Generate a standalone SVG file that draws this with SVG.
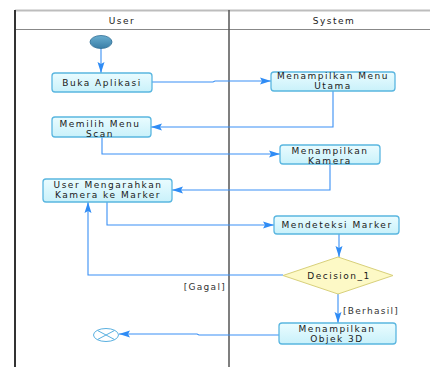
<svg xmlns="http://www.w3.org/2000/svg" width="430" height="367" viewBox="0 0 430 367">
<defs>
<linearGradient id="boxg" x1="0" y1="0" x2="0" y2="1"><stop offset="0" stop-color="#eafcff"/><stop offset="1" stop-color="#c9f1fa"/></linearGradient>
<linearGradient id="startg" x1="0" y1="0" x2="0" y2="1"><stop offset="0" stop-color="#6aaed0"/><stop offset="1" stop-color="#3a7ea6"/></linearGradient>
<marker id="arr" markerUnits="userSpaceOnUse" markerWidth="12" markerHeight="8" refX="11" refY="4" orient="auto"><path d="M0,0.5 L11,4 L0,7.5 L2,4 Z" fill="#2f8cf5"/></marker>
<style>
.box{fill:url(#boxg);stroke:#5ab6e0;stroke-width:1.3}
.t{font-family:"DejaVu Sans",Verdana,sans-serif;font-size:9px;letter-spacing:1.5px;fill:#1a1a1a;text-anchor:middle}
.lbl{font-family:"DejaVu Sans",Verdana,sans-serif;font-size:9px;letter-spacing:1.3px;fill:#333}
.c{fill:none;stroke:#3a90f5;stroke-width:1.1;marker-end:url(#arr)}
</style>
</defs>
<rect width="430" height="367" fill="#fff"/>
<g id="frame">
<line x1="15" y1="10.5" x2="430" y2="10.5" stroke="#bdbdbd" stroke-width="2"/>
<line x1="15" y1="29.5" x2="430" y2="29.5" stroke="#888" stroke-width="1.2"/>
<line x1="15" y1="10" x2="15" y2="367" stroke="#333" stroke-width="2"/>
<line x1="229" y1="10" x2="229" y2="367" stroke="#555" stroke-width="1.5"/>
<text class="t" x="122" y="23.5">User</text>
<text class="t" x="334" y="23.5">System</text>
</g>
<g id="connectors">
<path class="c" d="M101,48 V73"/>
<path class="c" d="M152,82 H213 L215,81 H271"/>
<path class="c" d="M333,91 V127 H151"/>
<path class="c" d="M102,137 V154 H280"/>
<path class="c" d="M330,164 V190 H172"/>
<path class="c" d="M107,202 V225 H274"/>
<path class="c" d="M339,234 V257"/>
<path class="c" d="M283,275 H88 V202"/>
<path class="c" d="M338,294 V323"/>
<path class="c" d="M279,335 H199 L197,334 H119"/>
<text class="lbl" x="226" y="289.5" text-anchor="end">[Gagal]</text>
<text class="lbl" x="343" y="314">[Berhasil]</text>
</g>
<g id="start"><ellipse cx="101" cy="42" rx="11" ry="6.5" fill="url(#startg)" stroke="#2f6d94" stroke-width="0.8"/></g>
<g id="buka"><rect class="box" x="52" y="73" width="100" height="19" rx="3"/><text class="t" x="102" y="85.5">Buka Aplikasi</text></g>
<g id="menu"><rect class="box" x="271" y="72" width="124" height="19" rx="3"/><text class="t" x="333" y="79">Menampilkan Menu</text><text class="t" x="333" y="89">Utama</text></g>
<g id="memilih"><rect class="box" x="52" y="117" width="99" height="20" rx="3"/><text class="t" x="100" y="126.5">Memilih Menu</text><text class="t" x="100" y="136.5">Scan</text></g>
<g id="kamera"><rect class="box" x="280" y="145" width="100" height="19" rx="3"/><text class="t" x="330" y="153.5">Menampilkan</text><text class="t" x="330" y="163.5">Kamera</text></g>
<g id="mengarahkan"><rect class="box" x="43" y="179" width="129" height="23" rx="3"/><text class="t" x="108" y="188">User Mengarahkan</text><text class="t" x="108" y="198">Kamera ke Marker</text></g>
<g id="mendeteksi"><rect class="box" x="274" y="216" width="125" height="18" rx="3"/><text class="t" x="337" y="227.5">Mendeteksi Marker</text></g>
<g id="decision"><polygon points="338,257 393,275.5 338,294 283,275.5" fill="#fdf9c6" stroke="#d8d07a" stroke-width="1"/><text class="t" x="339" y="279">Decision_1</text></g>
<g id="objek"><rect class="box" x="279" y="323" width="117" height="21" rx="3"/><text class="t" x="337" y="332">Menampilkan</text><text class="t" x="337" y="342">Objek 3D</text></g>
<g id="final"><ellipse cx="106" cy="335" rx="12.5" ry="6.5" fill="#fff" stroke="#5ab0e0" stroke-width="1"/><path d="M97.5,330.5 L114.5,339.5 M97.5,339.5 L114.5,330.5" stroke="#5ab0e0" stroke-width="1"/></g>
</svg>
